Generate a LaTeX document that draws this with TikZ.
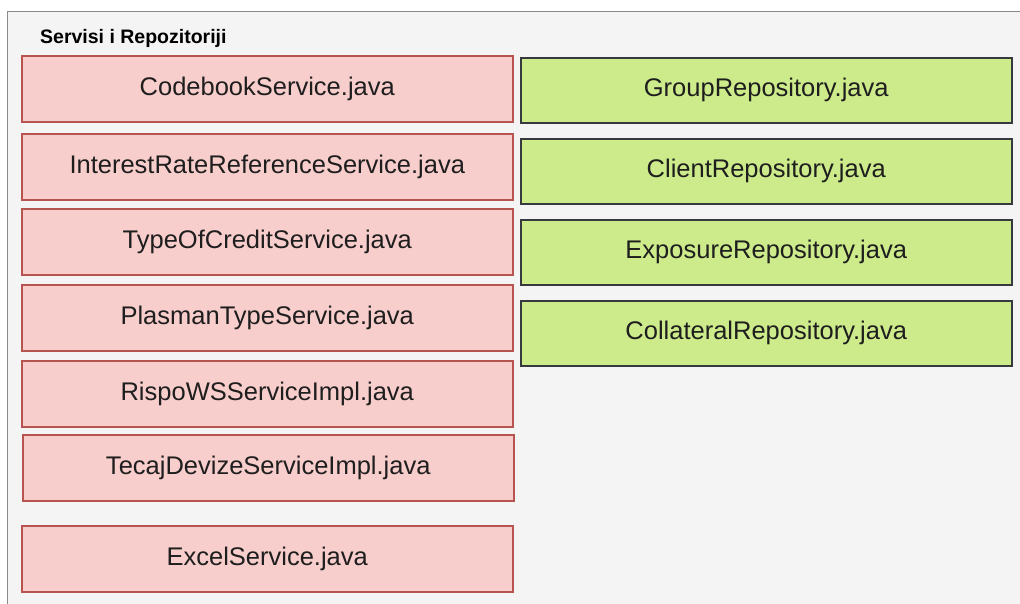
\documentclass[tikz,border=0pt]{standalone}
\usepackage{fontspec}
\setmainfont{Liberation Sans}
\definecolor{bgfill}{HTML}{F4F4F4}
\definecolor{bgline}{HTML}{8A8A8A}
\definecolor{pinkfill}{HTML}{F8CECC}
\definecolor{pinkline}{HTML}{B85450}
\definecolor{greenfill}{HTML}{CDEB8B}
\definecolor{greenline}{HTML}{36393D}
\definecolor{txt}{HTML}{1E1E1E}
\begin{document}
\begin{tikzpicture}[x=1pt,y=-1pt,
  svcbox/.style={draw=pinkline, fill=pinkfill, line width=1.5pt, anchor=north west,
    minimum width=491pt, minimum height=66pt, inner sep=0pt, text=txt,
    font=\fontsize{25.5}{30}\selectfont},
  repobox/.style={draw=greenline, fill=greenfill, line width=1.5pt, anchor=north west,
    minimum width=491pt, minimum height=65pt, inner sep=0pt, text=txt,
    font=\fontsize{25.5}{30}\selectfont},
  titletext/.style={anchor=base west, inner sep=0pt, text=black,
    font=\bfseries\fontsize{19.5}{22}\selectfont}]
\useasboundingbox (0,0) rectangle (1020,603);
\clip (0,0) rectangle (1020,603);
\fill[white] (0,0) rectangle (1020,603);
\draw[draw=bgline, fill=bgfill, line width=1pt] (7,11) rectangle (1040,620);
\node[titletext] (title) at (40,43) {Servisi i Repozitoriji};
% services
\node[svcbox] (cb)  at (21,55)  {CodebookService.java};
\node[svcbox] (irr) at (21,133) {InterestRateReferenceService.java};
\node[svcbox] (toc) at (21,208) {TypeOfCreditService.java};
\node[svcbox] (pts) at (21,284) {PlasmanTypeService.java};
\node[svcbox] (rws) at (21,360) {RispoWSServiceImpl.java};
\node[svcbox] (tds) at (22,434) {TecajDevizeServiceImpl.java};
\node[svcbox] (exs) at (21,525) {ExcelService.java};
% repositories
\node[repobox] (grp) at (520,57)  {GroupRepository.java};
\node[repobox] (cli) at (520,138) {ClientRepository.java};
\node[repobox] (exp) at (520,219) {ExposureRepository.java};
\node[repobox] (col) at (520,300) {CollateralRepository.java};
\end{tikzpicture}
\end{document}
